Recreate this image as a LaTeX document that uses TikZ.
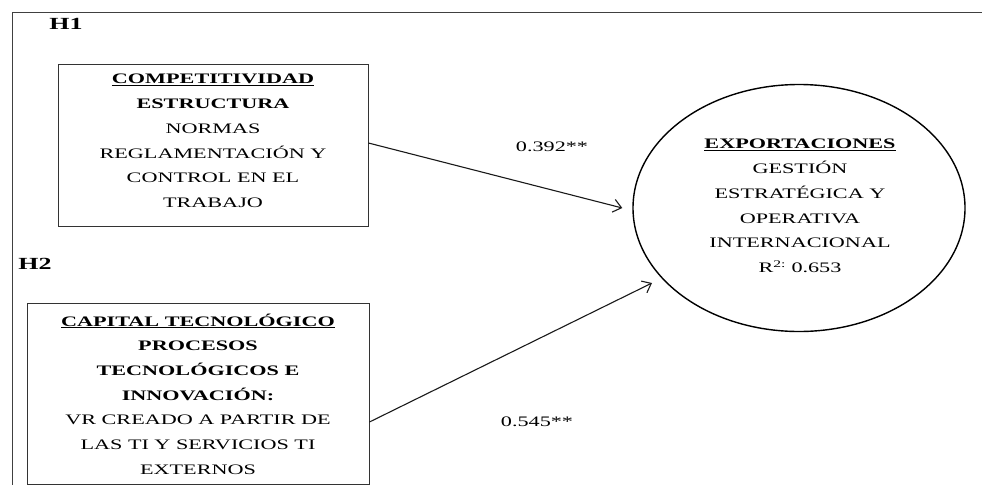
\documentclass[tikz,border=0pt]{standalone}
\usepackage{fontspec}
\setmainfont{Liberation Serif}[FakeStretch=1.53]
\usetikzlibrary{arrows.meta,shapes.geometric}

\begin{document}
\begin{tikzpicture}[x=1pt,y=-1pt,
  every node/.style={font=\fontsize{14.5}{24.7}\selectfont, text=black, inner sep=0pt},
  frameline/.style={draw=black!75, line width=0.9pt},
  varbox/.style={draw=black!80, line width=0.9pt, fill=none},
  boxtext/.style={align=center},
  hyplabel/.style={font=\fontsize{17}{20}\selectfont\bfseries},
  coef/.style={},
  path/.style={draw=black!90, line width=1.1pt, -{Straight Barb[length=8pt,width=13pt,line width=1.1pt]}}
]
\useasboundingbox (0,0) rectangle (982,485);

% open frame: top and left edges
\coordinate (ftr) at (982,12);
\coordinate (ftl) at (12,12);
\coordinate (fbl) at (12,485);
\draw[frameline] (ftr) -- (ftl) -- (fbl);

% hypothesis labels
\node[hyplabel] (h1) at (66,24) {H1};
\node[hyplabel] (h2) at (35,264) {H2};

% exogenous constructs
\node[varbox, minimum width=310pt, minimum height=162pt] (b1) at (213,145) {};
\node[boxtext] (t1) at (213,141) {\underline{\textbf{COMPETITIVIDAD}}\\ \textbf{ESTRUCTURA}\\ NORMAS\\ REGLAMENTACIÓN Y\\ CONTROL EN EL\\ TRABAJO};

\node[varbox, minimum width=342pt, minimum height=181pt] (b2) at (198,393.5) {};
\node[boxtext] (t2) at (198,394) {\underline{\textbf{CAPITAL TECNOLÓGICO}}\\ \textbf{PROCESOS}\\ \textbf{TECNOLÓGICOS E}\\ \textbf{INNOVACIÓN:}\\ VR CREADO A PARTIR DE\\ LAS TI Y SERVICIOS TI\\ EXTERNOS};

% endogenous construct
\node[ellipse, draw=black, line width=1.4pt, minimum width=332pt, minimum height=247pt] (e) at (799,208) {};
\node[boxtext] (te) at (800,206) {\underline{\textbf{EXPORTACIONES}}\\ GESTIÓN\\ ESTRATÉGICA Y\\ OPERATIVA\\ INTERNACIONAL\\ R\textsuperscript{2:} 0.653};

% structural paths
\draw[path] ([yshift=2pt]b1.east) -- ([xshift=-10pt]e.west);
\draw[path] ([yshift=-28.5pt]b2.east) -- ([xshift=-147pt,yshift=-75pt]e.center);

% path coefficients
\node[coef] (c1) at (552,147) {0.392**};
\node[coef] (c2) at (537,422) {0.545**};
\end{tikzpicture}
\end{document}
